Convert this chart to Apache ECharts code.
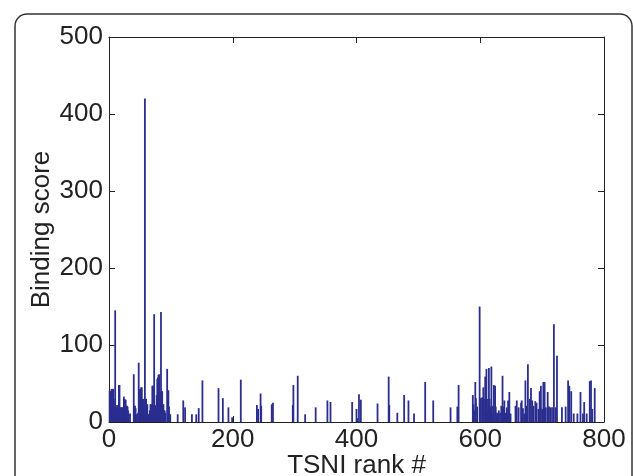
<!DOCTYPE html>
<html>
<head>
<meta charset="utf-8">
<script src="https://cdn.jsdelivr.net/npm/echarts@6/dist/echarts.min.js"></script>
<style>html,body{margin:0;padding:0;background:#fff;}#c{width:633px;height:476px;}</style>
</head>
<body>
<div id="c"></div>
<script>
// TSNI rank (x) and binding score (y); ranks not listed have score 0
const ranks = [1,2,3,4,5,6,7,8,9,10,11,12,13,14,15,16,17,18,19,20,21,22,23,24,25,26,27,28,29,30,31,32,34,
  40,41,42,43,44,45,47,48,49,50,51,52,53,54,55,56,58,59,60,61,62,63,64,66,67,68,69,70,71,72,73,74,75,76,77,78,79,80,81,82,83,84,85,86,87,88,89,90,91,94,95,96,97,98,99,
  111,120,123,134,141,145,151,177,184,193,199,213,239,241,245,246,263,265,297,298,305,317,334,353,358,393,
  400,401,404,407,434,452,453,466,477,484,493,511,524,552,563,565,
  588,589,590,592,593,595,599,601,603,605,606,608,609,610,611,612,614,615,616,618,619,620,622,624,625,627,628,630,632,634,636,637,639,641,643,644,645,647,649,657,659,662,666,
  667,669,671,673,675,677,680,682,684,686,689,691,694,696,698,700,702,704,706,709,711,713,716,719,722,724,732,738,742,744,747,751,757,762,766,768,772,777,779,781,785];
const scores = [40,40,28,43,43,19,43,30,19,145,19,19,22,19,12,48,48,19,19,17,19,19,10,33,30,29,29,21,21,20,15,10,11,
  62,21,21,18,10,10,12,77,20,43,43,45,45,30,25,30,420,30,30,23,23,10,10,15,23,23,20,47,47,22,140,22,21,21,35,56,58,61,62,40,35,143,40,40,23,23,15,15,12,69,41,41,20,10,10,
  10,28,19,10,10,18,54,44,31,19,6,55,22,17,37,21,23,25,22,48,60,10,19,28,26,26,
  17,5,36,29,24,59,22,12,35,28,11,52,28,19,20,48,
  35,23,15,52,31,20,150,31,32,45,30,59,20,69,30,15,70,30,20,72,21,10,48,47,20,12,10,15,12,21,60,20,28,12,19,10,28,39,11,21,28,19,25,
  28,18,11,54,21,75,30,44,28,21,27,25,17,40,47,17,52,52,19,39,20,19,19,127,19,86,19,20,54,47,40,11,11,39,11,26,11,53,54,17,44];
const xTicks = {min: 0, max: 800, interval: 200};
const yTicks = {min: 0, max: 500, interval: 100};
const xTitle = 'TSNI rank #';
const yTitle = 'Binding score';

const data = ranks.map((r, i) => [r, scores[i]]);
const font = "'Liberation Sans', Arial, Helvetica, sans-serif";
const txt = '#222';
const chart = echarts.init(document.getElementById('c'), null, {renderer: 'canvas'});
function tick() { return {show: true, inside: true, length: 6, lineStyle: {color: txt, width: 1}}; }
function line() { return {show: true, onZero: false, lineStyle: {color: txt, width: 1}}; }
chart.setOption({
  animation: false,
  backgroundColor: '#fff',
  graphic: [{
    type: 'rect', silent: true,
    shape: {x: 15, y: 14, width: 617, height: 520, r: 12},
    style: {fill: 'none', stroke: '#333', lineWidth: 1.5}
  }],
  grid: {left: 109, right: 29, top: 37, bottom: 54, show: false, containLabel: false, outerBoundsMode: 'none'},
  xAxis: [{
    type: 'value', position: 'bottom', min: xTicks.min, max: xTicks.max, interval: xTicks.interval,
    name: xTitle, nameLocation: 'middle', nameGap: 31, nameMoveOverlap: false,
    nameTextStyle: {fontFamily: font, fontSize: 26, color: txt},
    axisLine: line(), axisTick: tick(), splitLine: {show: false},
    axisLabel: {fontFamily: font, fontSize: 26, color: txt, margin: 5}
  }, {
    type: 'value', position: 'top', min: xTicks.min, max: xTicks.max, interval: xTicks.interval,
    axisLine: line(), axisTick: tick(), axisLabel: {show: false}, splitLine: {show: false}
  }],
  yAxis: [{
    type: 'value', position: 'left', min: yTicks.min, max: yTicks.max, interval: yTicks.interval,
    name: yTitle, nameLocation: 'middle', nameGap: 54, nameMoveOverlap: false,
    nameTextStyle: {fontFamily: font, fontSize: 26, color: txt},
    axisLine: line(), axisTick: tick(), splitLine: {show: false},
    axisLabel: {fontFamily: font, fontSize: 26, color: txt, margin: 6}
  }, {
    type: 'value', position: 'right', min: yTicks.min, max: yTicks.max, interval: yTicks.interval,
    axisLine: line(), axisTick: tick(), axisLabel: {show: false}, splitLine: {show: false}
  }],
  series: [{
    type: 'bar', xAxisIndex: 0, yAxisIndex: 0,
    data: data, barWidth: 1.8,
    itemStyle: {color: '#2b2e8e'},
    emphasis: {disabled: true}
  }]
});
</script>
</body>
</html>
